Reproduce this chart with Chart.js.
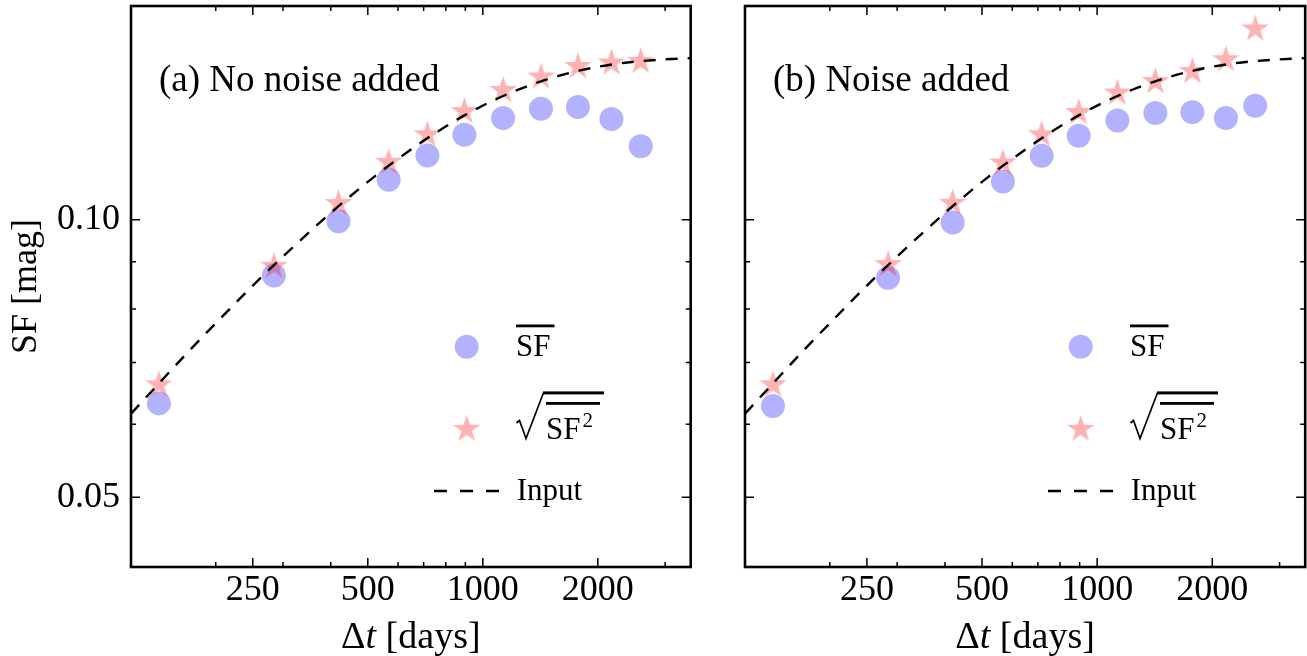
<!DOCTYPE html>
<html lang="en">
<head>
<meta charset="UTF-8">
<title>Structure function</title>
<script src="https://cdn.jsdelivr.net/npm/chart.js"></script>
<style>
  body { margin: 0; background: #fff; }
  .painel { position: absolute; top: 0; height: 656px; }
  #painelA { left: 0; width: 700px; }
  #painelB { left: 700px; width: 607px; }
</style>
</head>
<body>
<div class="painel" id="painelA"><canvas id="chartA"></canvas></div>
<div class="painel" id="painelB"><canvas id="chartB"></canvas></div>
<script>
// time-lag bins (days)
const dtBins = [142, 284, 419, 567, 716, 895, 1130, 1420, 1774, 2171, 2590];

// (a) no noise
const meanSF_a = [0.0632, 0.0870, 0.0996, 0.1105, 0.1174, 0.1236, 0.1289, 0.1319, 0.1325, 0.1286, 0.1201];
const rmsSF_a  = [0.0662, 0.0890, 0.1041, 0.1154, 0.1236, 0.1310, 0.1381, 0.1428, 0.1466, 0.1479, 0.1485];

// (b) noise added
const meanSF_b = [0.0628, 0.0865, 0.0993, 0.1100, 0.1173, 0.1233, 0.1281, 0.1305, 0.1308, 0.1289, 0.1329];
const rmsSF_b  = [0.0662, 0.0894, 0.1042, 0.1152, 0.1236, 0.1307, 0.1372, 0.1412, 0.1448, 0.1491, 0.1610];

// input curve (dashed)
const inputDt = [120, 140, 170, 200, 250, 300, 400, 500, 600, 750, 900, 1100, 1400, 1800, 2300, 2900, 3500];
const inputSF = [0.0616, 0.0660, 0.0720, 0.0772, 0.0848, 0.0912, 0.1017, 0.1099, 0.1164, 0.1241, 0.1299, 0.1355, 0.1410, 0.1452, 0.1478, 0.1491, 0.1497];

// ticks
const xMajor = [250, 500, 1000, 2000];
const xMinor = [200, 300, 400, 600, 700, 800, 900, 3000];
const yMajor = [0.05, 0.10];
const yMinor = [0.06, 0.07, 0.08, 0.09];

const serif = '"Liberation Serif", "Times New Roman", "DejaVu Serif", serif';
const azul = 'rgba(0, 0, 255, 0.3)';
const vermelho = 'rgba(255, 0, 0, 0.3)';

function fazerEstrela(R, cor) {
  const c = document.createElement('canvas');
  const s = Math.ceil(R * 2 + 2);
  c.width = s; c.height = s;
  const g = c.getContext('2d');
  const r = R * 0.381966;
  g.beginPath();
  for (let i = 0; i < 10; i++) {
    const rr = i % 2 === 0 ? R : r;
    const a = -Math.PI / 2 + i * Math.PI / 5;
    const px = s / 2 + rr * Math.cos(a), py = s / 2 + rr * Math.sin(a);
    if (i === 0) g.moveTo(px, py); else g.lineTo(px, py);
  }
  g.closePath();
  g.fillStyle = cor;
  g.fill();
  return c;
}
const estrela = fazerEstrela(14.5, vermelho);

function pontos(xs, ys) {
  return xs.map((x, i) => ({ x: x, y: ys[i] }));
}

const molduraPlugin = {
  id: 'moldura',
  afterDatasetsDraw(chart, args, opts) {
    const ctx = chart.ctx;
    const ca = chart.chartArea;
    const sx = chart.scales.x, sy = chart.scales.y;
    ctx.save();
    ctx.strokeStyle = '#000';
    ctx.lineWidth = 1.5;
    const marca = (vals, len, eixo) => {
      vals.forEach(v => {
        ctx.beginPath();
        if (eixo === 'x') {
          const p = sx.getPixelForValue(v);
          ctx.moveTo(p, ca.bottom); ctx.lineTo(p, ca.bottom - len);
          ctx.moveTo(p, ca.top); ctx.lineTo(p, ca.top + len);
        } else {
          const p = sy.getPixelForValue(v);
          ctx.moveTo(ca.left, p); ctx.lineTo(ca.left + len, p);
          ctx.moveTo(ca.right, p); ctx.lineTo(ca.right - len, p);
        }
        ctx.stroke();
      });
    };
    marca(xMajor, 9, 'x');
    marca(xMinor, 5, 'x');
    marca(yMajor, 9, 'y');
    marca(yMinor, 5, 'y');
    ctx.lineWidth = 2.6;
    ctx.strokeRect(ca.left, ca.top, ca.right - ca.left, ca.bottom - ca.top);
    ctx.restore();
  },
  afterDraw(chart, args, opts) {
    const ctx = chart.ctx;
    const ca = chart.chartArea;
    const dx = ca.left - 131;
    ctx.save();
    ctx.fillStyle = '#000';
    ctx.strokeStyle = '#000';
    ctx.textAlign = 'left';
    ctx.textBaseline = 'alphabetic';

    // panel label
    ctx.font = '37px ' + serif;
    ctx.fillText(opts.rotulo, ca.left + 28, 91);

    // legend
    ctx.fillStyle = azul;
    ctx.beginPath();
    ctx.arc(466.7 + dx, 346.7, 12, 0, Math.PI * 2);
    ctx.fill();
    ctx.drawImage(estrela, 466.7 + dx - estrela.width / 2, 429.3 - estrela.height / 2);

    ctx.fillStyle = '#000';
    ctx.font = '31px ' + serif;
    ctx.fillText('SF', 516 + dx, 356);
    let w = ctx.measureText('SF').width;
    ctx.fillRect(516 + dx, 324.5, w + 4, 2.8);

    // sqrt of mean SF^2
    ctx.lineWidth = 1.7;
    ctx.beginPath();
    ctx.moveTo(516.5 + dx, 423);
    ctx.lineTo(519.5 + dx, 420.5);
    ctx.lineTo(526 + dx, 438.5);
    ctx.lineTo(543.5 + dx, 392.7);
    ctx.stroke();
    ctx.fillRect(543 + dx, 391.4, 61, 3);
    ctx.fillText('SF', 546 + dx, 439);
    w = ctx.measureText('SF').width;
    ctx.fillRect(546 + dx, 402, 54, 2.8);
    ctx.font = '21px ' + serif;
    ctx.fillText('2', 546 + dx + w + 2, 427);

    ctx.lineWidth = 2.5;
    ctx.setLineDash([13, 13]);
    ctx.beginPath();
    ctx.moveTo(434 + dx, 491);
    ctx.lineTo(500 + dx, 491);
    ctx.stroke();
    ctx.setLineDash([]);
    ctx.font = '31px ' + serif;
    ctx.fillText('Input', 516.7 + dx, 500);

    // x title: Δt [days]
    const cx = (ca.left + ca.right) / 2;
    const tam = 38;
    ctx.font = tam + 'px ' + serif;
    const w1 = ctx.measureText('\u0394').width;
    const w3 = ctx.measureText(' [days]').width;
    ctx.font = 'italic ' + tam + 'px ' + serif;
    const w2 = ctx.measureText('t').width;
    let x0 = cx - (w1 + w2 + w3) / 2;
    ctx.font = tam + 'px ' + serif;
    ctx.fillText('\u0394', x0, 648);
    ctx.font = 'italic ' + tam + 'px ' + serif;
    ctx.fillText('t', x0 + w1, 648);
    ctx.font = tam + 'px ' + serif;
    ctx.fillText(' [days]', x0 + w1 + w2, 648);

    // y title
    if (opts.tituloY) {
      ctx.translate(27, (ca.top + ca.bottom) / 2);
      ctx.rotate(-Math.PI / 2);
      ctx.textAlign = 'center';
      ctx.textBaseline = 'middle';
      ctx.font = '36px ' + serif;
      ctx.fillText('SF [mag]', 0, 0);
    }
    ctx.restore();
  }
};

function fazerGrafico(id, media, rms, rotulo, comY, larguraY, padDir) {
  return new Chart(document.getElementById(id), {
    type: 'scatter',
    data: {
      datasets: [
        {
          label: 'Input',
          data: pontos(inputDt, inputSF),
          showLine: true,
          borderColor: '#000',
          borderWidth: 2.4,
          borderDash: [12, 10],
          cubicInterpolationMode: 'monotone',
          pointRadius: 0,
          order: 0
        },
        {
          label: 'rms',
          data: pontos(dtBins, rms),
          pointStyle: estrela,
          pointRadius: 14,
          backgroundColor: vermelho,
          borderWidth: 0,
          order: 1
        },
        {
          label: 'mean',
          data: pontos(dtBins, media),
          pointStyle: 'circle',
          pointRadius: 12,
          backgroundColor: azul,
          borderWidth: 0,
          order: 2
        }
      ]
    },
    options: {
      responsive: true,
      maintainAspectRatio: false,
      animation: false,
      layout: { autoPadding: false, padding: { top: 6, right: padDir, left: 0, bottom: 0 } },
      plugins: {
        legend: { display: false },
        tooltip: { enabled: false },
        moldura: { rotulo: rotulo, tituloY: comY }
      },
      scales: {
        x: {
          type: 'logarithmic',
          min: 120,
          max: 3500,
          bounds: 'data',
          grid: { display: false, drawTicks: false },
          border: { display: false },
          ticks: {
            autoSkip: false,
            maxRotation: 0,
            padding: 2,
            color: '#000',
            font: { family: serif, size: 36 },
            callback: v => String(v)
          },
          afterBuildTicks: s => { s.ticks = xMajor.map(v => ({ value: v })); },
          afterFit: s => { s.height = 89; s.paddingLeft = 0; s.paddingRight = 0; }
        },
        y: {
          type: 'logarithmic',
          min: 0.042,
          max: 0.1705,
          bounds: 'data',
          grid: { display: false, drawTicks: false },
          border: { display: false },
          ticks: {
            display: comY,
            autoSkip: false,
            padding: 11,
            color: '#000',
            font: { family: serif, size: 36 },
            callback: v => Number(v).toFixed(2)
          },
          afterBuildTicks: s => { s.ticks = yMajor.map(v => ({ value: v })); },
          afterFit: s => { s.width = larguraY; s.paddingTop = 0; s.paddingBottom = 0; }
        }
      }
    },
    plugins: [molduraPlugin]
  });
}

fazerGrafico('chartA', meanSF_a, rmsSF_a, '(a) No noise added', true, 131, 9.3);
fazerGrafico('chartB', meanSF_b, rmsSF_b, '(b) Noise added', false, 45, 1.8);
</script>
</body>
</html>
